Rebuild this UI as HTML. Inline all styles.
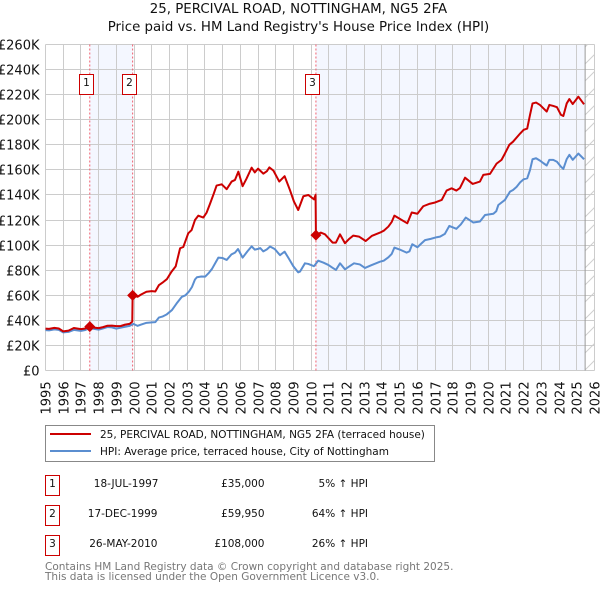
<!DOCTYPE html>
<html lang="en">
<head>
<meta charset="utf-8">
<title>25, Percival Road price chart</title>
<style>
html,body{margin:0;padding:0;background:#fff;width:600px;height:590px;overflow:hidden}
svg{display:block;font-family:"DejaVu Sans","Liberation Sans",sans-serif}
</style>
</head>
<body>
<svg id="chart" xmlns="http://www.w3.org/2000/svg" width="600" height="590" viewBox="0 0 600 590">
  <defs>
    <pattern id="hatch" patternUnits="userSpaceOnUse" width="17" height="17" y="3">
      <line x1="0" y1="17" x2="17" y2="0" stroke="#cfcfcf" stroke-width="1"></line>
    </pattern>
  </defs>
  <text x="298.5" y="13" font-size="13.35" text-anchor="middle" fill="#111">25, PERCIVAL ROAD, NOTTINGHAM, NG5 2FA</text>
  <text x="298.5" y="31" font-size="13.35" text-anchor="middle" fill="#111">Price paid vs. HM Land Registry's House Price Index (HPI)</text>
  <g id="plot"></g>

  <rect x="45.5" y="425.5" width="389" height="36" fill="#fff" stroke="#888" stroke-width="1"></rect>
  <line x1="50" y1="434" x2="91" y2="434" stroke="#cc0000" stroke-width="2"></line>
  <text x="100" y="438" font-size="10.5" fill="#111">25, PERCIVAL ROAD, NOTTINGHAM, NG5 2FA (terraced house)</text>
  <line x1="50" y1="451" x2="91" y2="451" stroke="#5b8ed0" stroke-width="2"></line>
  <text x="100" y="455" font-size="10.5" fill="#111">HPI: Average price, terraced house, City of Nottingham</text>

  <g font-size="10.5" fill="#111">
    <rect x="45.5" y="475.5" width="14" height="20" fill="#fff" stroke="#cc0000"></rect>
    <text x="52.5" y="487" text-anchor="middle">1</text>
    <text x="158.5" y="487" text-anchor="end">18-JUL-1997</text>
    <text x="264.5" y="487" text-anchor="end">£35,000</text>
    <text x="368" y="487" text-anchor="end">5% ↑ HPI</text>
  </g>
  <g font-size="10.5" fill="#111">
    <rect x="45.5" y="505.5" width="14" height="20" fill="#fff" stroke="#cc0000"></rect>
    <text x="52.5" y="517" text-anchor="middle">2</text>
    <text x="157.5" y="517" text-anchor="end">17-DEC-1999</text>
    <text x="264.5" y="517" text-anchor="end">£59,950</text>
    <text x="368" y="517" text-anchor="end">64% ↑ HPI</text>
  </g>
  <g font-size="10.5" fill="#111">
    <rect x="45.5" y="535.5" width="14" height="20" fill="#fff" stroke="#cc0000"></rect>
    <text x="52.5" y="547" text-anchor="middle">3</text>
    <text x="157.5" y="547" text-anchor="end">26-MAY-2010</text>
    <text x="264.5" y="547" text-anchor="end">£108,000</text>
    <text x="368" y="547" text-anchor="end">26% ↑ HPI</text>
  </g>
  <text x="45" y="570" font-size="10.5" fill="#777">Contains HM Land Registry data © Crown copyright and database right 2025.</text>
  <text x="45" y="580" font-size="10.5" fill="#777">This data is licensed under the Open Government Licence v3.0.</text>
</svg>
<script>
const xTickYears = [1995,1996,1997,1998,1999,2000,2001,2002,2003,2004,2005,2006,2007,2008,2009,2010,2011,2012,2013,2014,2015,2016,2017,2018,2019,2020,2021,2022,2023,2024,2025,2026];
const yTickValues = [0,20,40,60,80,100,120,140,160,180,200,220,240,260];
const yTickLabels = ['£0','£20K','£40K','£60K','£80K','£100K','£120K','£140K','£160K','£180K','£200K','£220K','£240K','£260K'];
const saleNumbers = ['1','2','3'];
const saleDates = [1997.5,1999.92,2010.27];
const salePrices = [35,59.95,108];
const dataEndDate = 2025.47;

const hpiDates = [1995,1995.2,1995.5,1995.75,1996,1996.3,1996.6,1997,1997.25,1997.5,1997.75,1998,1998.25,1998.5,1998.75,1999,1999.25,1999.5,1999.75,1999.96,2000.2,2000.4,2000.7,2001,2001.2,2001.4,2001.6,2001.85,2002.14,2002.4,2002.7,2002.9,2003.1,2003.27,2003.44,2003.55,2003.8,2004.02,2004.2,2004.4,2004.6,2004.76,2005,2005.23,2005.5,2005.7,2005.87,2006.13,2006.4,2006.64,2006.82,2007,2007.13,2007.3,2007.5,2007.68,2007.95,2008.24,2008.5,2008.75,2009,2009.27,2009.37,2009.65,2009.84,2010.16,2010.4,2010.7,2010.97,2011.2,2011.4,2011.63,2011.91,2012.15,2012.42,2012.75,2013.04,2013.4,2013.89,2014.1,2014.36,2014.55,2014.7,2015,2015.39,2015.55,2015.71,2016,2016.2,2016.43,2016.75,2017.09,2017.28,2017.55,2017.8,2018.2,2018.45,2018.73,2019.16,2019.53,2019.82,2020.29,2020.45,2020.57,2020.94,2021.23,2021.4,2021.6,2021.8,2022,2022.2,2022.36,2022.5,2022.7,2022.92,2023.1,2023.3,2023.45,2023.67,2023.88,2024.1,2024.24,2024.43,2024.58,2024.77,2025.09,2025.41];
const hpiValues = [32.2,32,32.8,32.4,30.4,30.8,32.4,31.6,32.3,33.8,33.2,32.6,33.6,34.7,34.4,33.4,34.2,34.9,35.6,37.2,35.6,36.6,38,38.4,38.6,42.2,43,44.8,48.2,53.4,58.8,60,63,66.6,72.6,74.4,75,74.9,77.5,81,86,90,89.7,88.2,92.6,94,96.9,90,95,99,96.4,97,97.6,95,96.6,98.9,96.8,92,94.8,89,83,78.3,78.9,85.5,85,83.2,87.6,86,84.2,82,80.2,85.5,80.7,83,85.5,84.6,81.8,84,86.8,87.6,90.3,93,98,96.5,94,95,100.7,98.3,101,104,105,106.3,106.8,109,115.3,113,116.5,122,118,118.8,124,125,127,132,136,142.7,144,146.5,150,152.5,153.3,160,168.5,169.3,167.4,165.5,163.5,168,168,166.5,162.6,160.8,168.6,172,168,173,168.5];

const paidDates = [1995,1995.2,1995.5,1995.75,1996,1996.3,1996.6,1997,1997.25,1997.5,1997.75,1998,1998.25,1998.5,1998.75,1999,1999.25,1999.5,1999.75,1999.9,1999.92,2000.2,2000.4,2000.7,2001,2001.2,2001.4,2001.6,2001.85,2002.12,2002.35,2002.6,2002.78,2003.06,2003.25,2003.44,2003.63,2003.91,2004.1,2004.29,2004.5,2004.66,2004.95,2005.23,2005.51,2005.7,2005.89,2006.13,2006.35,2006.64,2006.82,2007,2007.3,2007.5,2007.64,2007.87,2008.2,2008.5,2008.8,2009.03,2009.27,2009.56,2009.84,2010.16,2010.25,2010.27,2010.54,2010.78,2011.21,2011.4,2011.63,2011.91,2012.15,2012.38,2012.7,2013.08,2013.42,2013.89,2014.1,2014.36,2014.55,2014.7,2014.95,2015.43,2015.68,2016,2016.33,2016.7,2017,2017.37,2017.65,2017.93,2018.2,2018.4,2018.69,2019.12,2019.53,2019.72,2020.1,2020.47,2020.75,2020.94,2021.19,2021.4,2021.8,2022,2022.2,2022.36,2022.5,2022.7,2022.92,2023.3,2023.45,2023.67,2023.88,2024.1,2024.24,2024.43,2024.58,2024.77,2025.09,2025.41];
const paidValues = [33.4,33.2,34,33.5,31.2,31.8,33.9,33,33.5,35,34.2,33.8,34.6,35.7,35.8,35.4,35.5,36.6,37.2,39,59.95,58.8,60.6,62.8,63.3,63,68,70,72.8,78.9,83,97.5,98.5,109.4,112,120,123.5,122,126,133,141,147.5,148.5,144.6,150.7,152,158.6,147,153,161.8,158,161,157,159,162,159.4,150.7,155,144,134.7,128,139,140,136.5,140,108,110,108.6,102,102,108.6,101.5,105,107.6,106.8,103.3,107.3,110,111.5,114.8,118.5,123.5,121.4,117.4,126,125,131,133,134,136,143.5,145.3,143.5,145.5,153.8,148.8,150.7,156,156.8,165,168,173,180,182.5,189,192,193,204,213,213.7,211.8,206.5,211.8,211,210,204,203,213,216.5,212.5,218.4,212.3];

const xScale = year => 45.5 + (year - 1995) * 17.71;
const yScale = value => 370.5 - value * 1.2538;
const svgNS = 'http://www.w3.org/2000/svg';
const plot = document.getElementById('plot');
const top_ = yScale(260), bottom_ = yScale(0), left_ = xScale(1995), right_ = xScale(2026);

function make(tag, attrs, parent) {
  const el = document.createElementNS(svgNS, tag);
  for (const k in attrs) el.setAttribute(k, attrs[k]);
  (parent || plot).appendChild(el);
  return el;
}
const snap = v => Math.round(v - 0.5) + 0.5;

const bg = make('rect', {x: left_, y: top_, width: right_ - left_, height: bottom_ - top_, fill: '#fff'});



const shade1 = make('rect', {x: xScale(saleDates[0]), y: top_, width: xScale(saleDates[1]) - xScale(saleDates[0]), height: bottom_ - top_, fill: '#f4f7ff'});



const shade2 = make('rect', {x: xScale(saleDates[2]), y: top_, width: xScale(dataEndDate) - xScale(saleDates[2]), height: bottom_ - top_, fill: '#f4f7ff'});



const hatchRect = make('rect', {x: xScale(dataEndDate), y: top_, width: right_ - xScale(dataEndDate), height: bottom_ - top_, fill: 'url(#hatch)'});



xTickYears.forEach(year => {
  const px = snap(xScale(year));
  const g = make('line', {x1: px, x2: px, y1: top_, y2: bottom_, stroke: '#cccccc', 'stroke-width': 1});
  
  
  const t = make('text', {transform: 'translate(' + (px + 5) + ',414.5) rotate(-90)', 'font-size': 13, fill: '#111'});
  t.textContent = String(year);
  
  
});

yTickValues.forEach((value, i) => {
  const py = snap(yScale(value));
  const g = make('line', {x1: left_, x2: right_, y1: py, y2: py, stroke: '#cccccc', 'stroke-width': 1});
  
  
  const t = make('text', {x: 39.5, y: py + 5, 'font-size': 13, 'text-anchor': 'end', fill: '#111'});
  t.textContent = yTickLabels[i];
  
  
});

const endLine = make('line', {x1: xScale(dataEndDate), x2: xScale(dataEndDate), y1: top_, y2: bottom_, stroke: '#999999', 'stroke-width': 1});



saleDates.forEach((date, i) => {
  const px = xScale(date);
  const v = make('line', {x1: px, x2: px, y1: top_, y2: bottom_, stroke: '#f06070', 'stroke-width': 1, 'stroke-dasharray': '2 2'});
  
  
});

function pathFrom(dates, values) {
  return dates.map((d, i) => (i ? 'L' : 'M') + xScale(d).toFixed(2) + ' ' + yScale(values[i]).toFixed(2)).join(' ');
}

const hpiLine = make('path', {d: pathFrom(hpiDates, hpiValues), fill: 'none', stroke: '#5b8ed0', 'stroke-width': 2, 'stroke-linejoin': 'round'});



const paidLine = make('path', {d: pathFrom(paidDates, paidValues), fill: 'none', stroke: '#cc0000', 'stroke-width': 2, 'stroke-linejoin': 'round'});



saleDates.forEach((date, i) => {
  const px = xScale(date), py = yScale(salePrices[i]), r = 5.5;
  const m = make('polygon', {points: [[px, py - r], [px + r, py], [px, py + r], [px - r, py]].map(p => p.join(',')).join(' '), fill: '#cc0000'});
  
  
  const box = make('rect', {x: snap(px) - 10, y: 74.5, width: 14, height: 20, fill: '#fff', stroke: '#cc0000', 'stroke-width': 1});
  
  
  const label = make('text', {x: snap(px) - 3, y: 86, 'font-size': 10.5, 'text-anchor': 'middle', fill: '#111'});
  label.textContent = saleNumbers[i];
  
  
});
</script>
</body>
</html>
